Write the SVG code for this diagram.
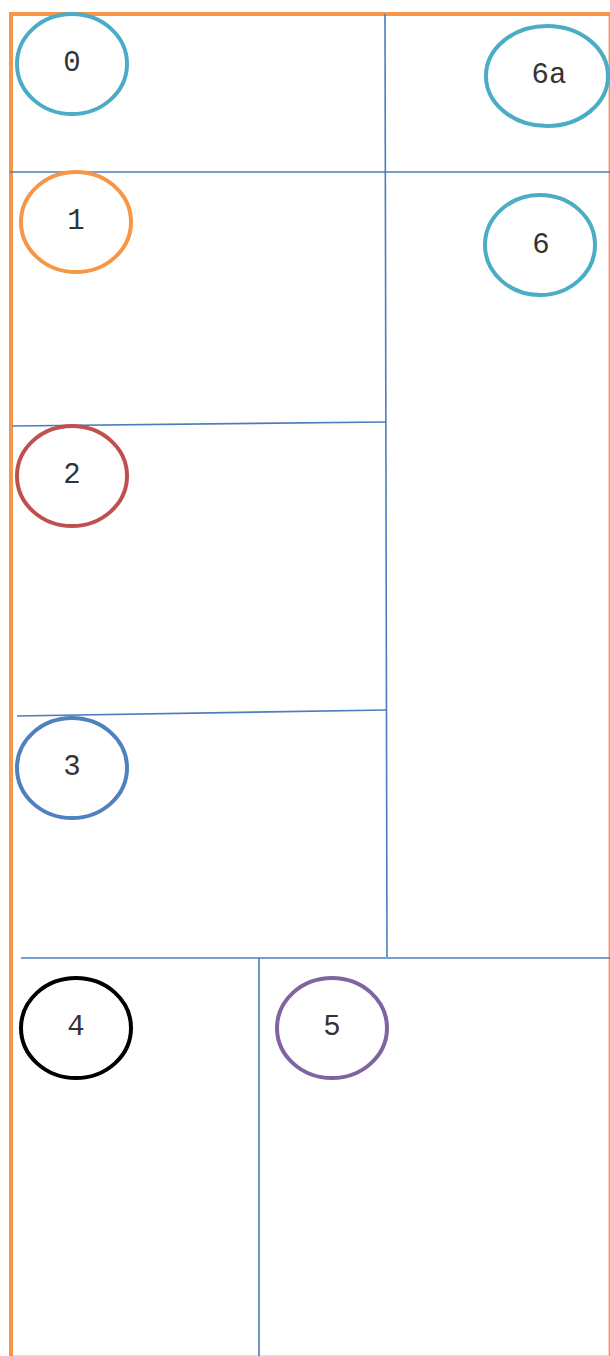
<svg xmlns="http://www.w3.org/2000/svg" width="610" height="1356" viewBox="0 0 610 1356">
<style>
.n{fill:#fff;stroke-width:4}
.t{font-family:"Liberation Mono","Courier New",monospace;font-size:29px;fill:#333;text-anchor:middle}
.l{stroke:#4a7ebb;stroke-width:1.6;fill:none}
.b{stroke:#f79646;fill:none}
</style>
<rect width="610" height="1356" fill="#fff"/>
<g id="border">
<line class="b" x1="11" y1="12" x2="11" y2="1356" stroke-width="4"/>
<line class="b" x1="9" y1="14" x2="610" y2="14" stroke-width="4"/>
<line class="b" x1="609.3" y1="14" x2="609.3" y2="1356" stroke-width="1.4"/>
<line class="b" x1="11" y1="1355.5" x2="610" y2="1355.5" stroke-width="1" stroke-opacity="0.35"/>
</g>
<g id="connectors">
<line class="l" x1="385" y1="14" x2="387" y2="957"/>
<line class="l" x1="10" y1="172" x2="610" y2="172"/>
<line class="l" x1="12" y1="426" x2="386" y2="422"/>
<line class="l" x1="17" y1="716" x2="386" y2="710"/>
<line class="l" x1="21" y1="958" x2="610" y2="958"/>
<line class="l" x1="259" y1="958" x2="259" y2="1356"/>
</g>
<g id="n0"><ellipse class="n" cx="72" cy="64" rx="55" ry="50" stroke="#4bacc6"/><text class="t" x="72" y="71">0</text></g>
<g id="n6a"><ellipse class="n" cx="547" cy="76" rx="61" ry="50" stroke="#4bacc6"/><text class="t" x="549" y="83">6a</text></g>
<g id="n1"><ellipse class="n" cx="76" cy="222" rx="55" ry="50" stroke="#f79646"/><text class="t" x="76" y="229">1</text></g>
<g id="n6"><ellipse class="n" cx="540" cy="245" rx="55" ry="50" stroke="#4bacc6"/><text class="t" x="541" y="253">6</text></g>
<g id="n2"><ellipse class="n" cx="72" cy="476" rx="55" ry="50" stroke="#c0504d"/><text class="t" x="72" y="483">2</text></g>
<g id="n3"><ellipse class="n" cx="72" cy="768" rx="55" ry="50" stroke="#4f81bd"/><text class="t" x="72" y="775">3</text></g>
<g id="n4"><ellipse class="n" cx="76" cy="1028" rx="55" ry="50" stroke="#000"/><text class="t" x="76" y="1035">4</text></g>
<g id="n5"><ellipse class="n" cx="332" cy="1028" rx="55" ry="50" stroke="#8064a2"/><text class="t" x="332" y="1035">5</text></g>
</svg>
